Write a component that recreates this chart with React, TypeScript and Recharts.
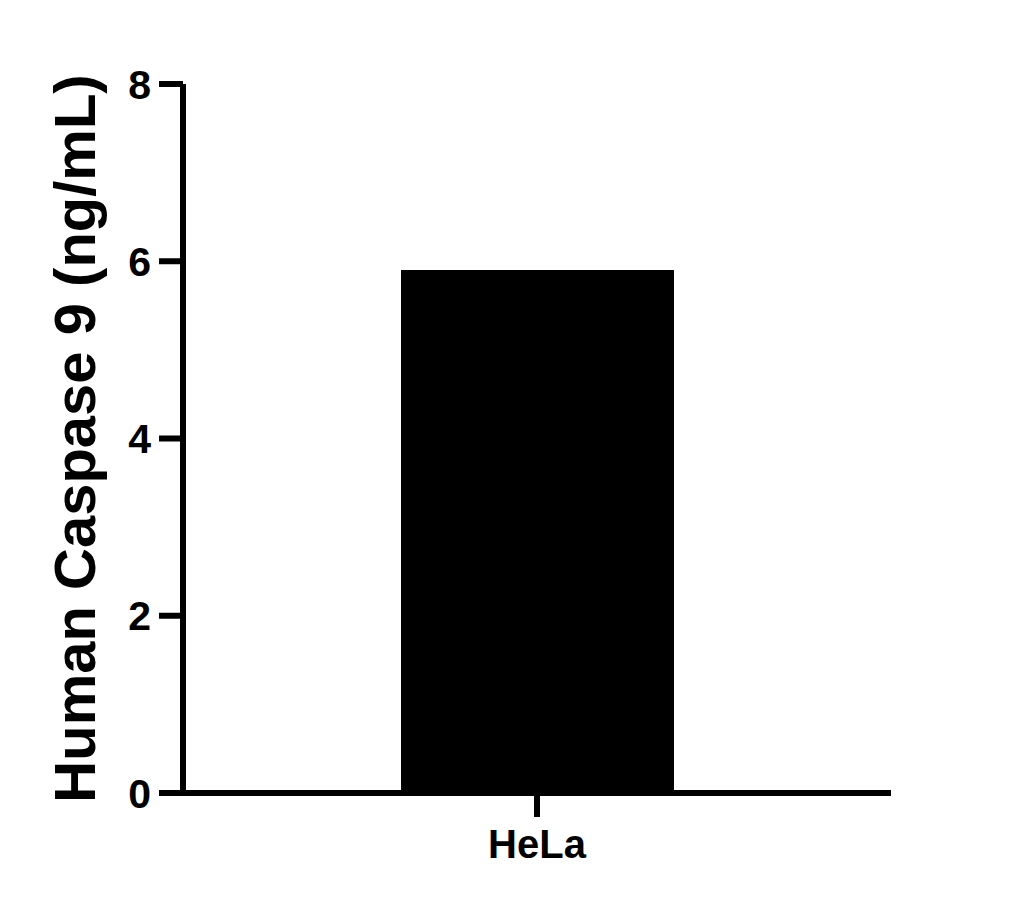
import { BarChart, Bar, XAxis, YAxis, Label } from "recharts";

const categories = ["HeLa"];
const caspase9 = [5.9];
const yTicks = [0, 2, 4, 6, 8];

const data = categories.map((name, i) => ({ name, value: caspase9[i] }));

const FONT = "'Liberation Sans', Arial, Helvetica, sans-serif";

export default function App() {
    return (
        <div style={{ width: 1010, height: 900 }}>
            <BarChart
                width={1010}
                height={900}
                data={data}
                margin={{ top: 76, right: 127, bottom: 35, left: 0 }}
            >
                <XAxis
                    dataKey="name"
                    height={80}
                    axisLine={{ stroke: "#000", strokeWidth: 6 }}
                    tickLine={{ stroke: "#000", strokeWidth: 6 }}
                    tickSize={24}
                    tickMargin={13}
                    tick={{ fill: "#000", fontSize: 40, fontWeight: 700, fontFamily: FONT }}
                />
                <YAxis
                    width={175}
                    domain={[0, 8]}
                    ticks={yTicks}
                    axisLine={{ stroke: "#000", strokeWidth: 6 }}
                    tickLine={{ stroke: "#000", strokeWidth: 6 }}
                    tickSize={24}
                    tickMargin={8}
                    tick={{ fill: "#000", fontSize: 41, fontWeight: 700, fontFamily: FONT }}
                >
                    <Label
                        content={(props: any) => {
                            const vb = props.viewBox;
                            const cx = 87;
                            const cy = vb.y + vb.height / 2;
                            return (
                                <text
                                    x={cx}
                                    y={cy}
                                    transform={`rotate(-90 ${cx} ${cy})`}
                                    textAnchor="middle"
                                    fill="#000"
                                    fontSize={58}
                                    fontWeight={700}
                                    fontFamily={FONT}
                                >
                                    Human Caspase 9 (ng/mL)
                                </text>
                            );
                        }}
                    />
                </YAxis>
                <Bar dataKey="value" fill="#000" barSize={273} isAnimationActive={false} />
            </BarChart>
        </div>
    );
}
